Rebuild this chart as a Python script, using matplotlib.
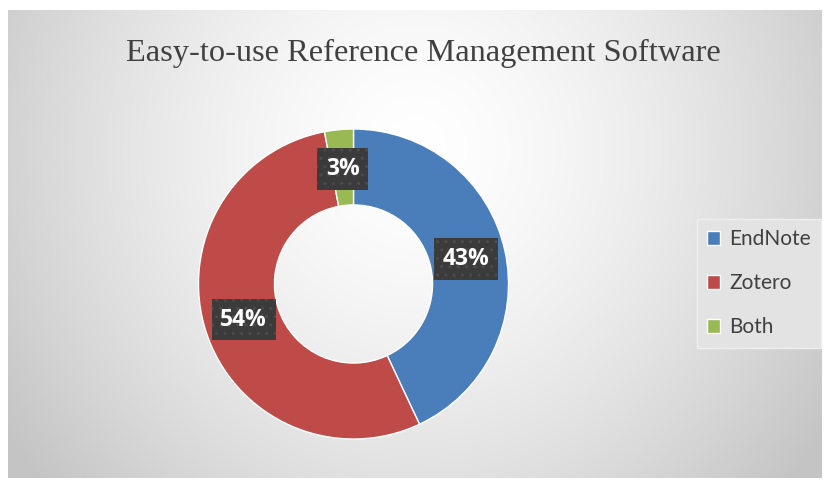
import numpy as np
import matplotlib
matplotlib.use("Agg")
import matplotlib.pyplot as plt

title = "Easy-to-use Reference Management Software"
categories = ["EndNote", "Zotero", "Both"]
values = [43, 54, 3]
colors = ["#4A7EBB", "#BE4B48", "#98B954"]

W, H = 829, 488
fig = plt.figure(figsize=(W / 100, H / 100), dpi=100, facecolor="white")

# background chart area with radial gradient
bx0, by0, bx1, by1 = 8, 10, 822, 478
bg = fig.add_axes([bx0 / W, 1 - by1 / H, (bx1 - bx0) / W, (by1 - by0) / H])
yy, xx = np.mgrid[0:1:300j, 0:1:500j]
cx, cy = 0.5, 0.3
d = np.sqrt(((xx - cx) / 0.55) ** 2 + ((yy - cy) / 1.0) ** 2)
shade = 1.0 - 0.2 * np.clip(d, 0, 1.2) ** 1.5
shade = np.clip(shade, 0.77, 1.0)
bg.imshow(np.dstack([shade, shade, shade]), aspect="auto", extent=[0, 1, 1, 0])
bg.set_axis_off()

fig.text(423 / W, 1 - 53 / H, title, ha="center", va="center",
         fontsize=23.3, family="Liberation Serif", color="#404040")

# donut
cxp, cyp, R = 353.5, 284, 155
ax = fig.add_axes([(cxp - R) / W, 1 - (cyp + R) / H, 2 * R / W, 2 * R / H])
wedges, texts, autotexts = ax.pie(
    values, colors=colors, startangle=90, counterclock=False, radius=1,
    wedgeprops=dict(width=0.49, edgecolor="white", linewidth=1),
    autopct=lambda p: f"{p:.0f}%", pctdistance=0.745,
    textprops=dict(color="white", fontsize=16.5, fontweight="bold", family="Open Sans"))
for t in autotexts:
    t.set_bbox(dict(boxstyle="square,pad=0.38", facecolor="#3b3b3b",
                    edgecolor="#4c4c4c", hatch="..", linewidth=0))
ax.set_xlim(-1, 1)
ax.set_ylim(-1, 1)
ax.set_axis_off()

leg = fig.legend(wedges, categories, loc="upper left",
                 bbox_to_anchor=(697 / W, 1 - 219 / H),
                 frameon=True, fancybox=False, framealpha=1,
                 facecolor="#e3e3e3", edgecolor="#eeeeee",
                 prop=dict(family="Lato", size=15),
                 handlelength=0.6, handleheight=0.6, handletextpad=0.45,
                 labelspacing=1.15, borderpad=0.5, borderaxespad=0)
leg.get_frame().set_linewidth(1)
for txt in leg.get_texts():
    txt.set_color("#404040")

fig.savefig("out.png", dpi=100, facecolor="white")
